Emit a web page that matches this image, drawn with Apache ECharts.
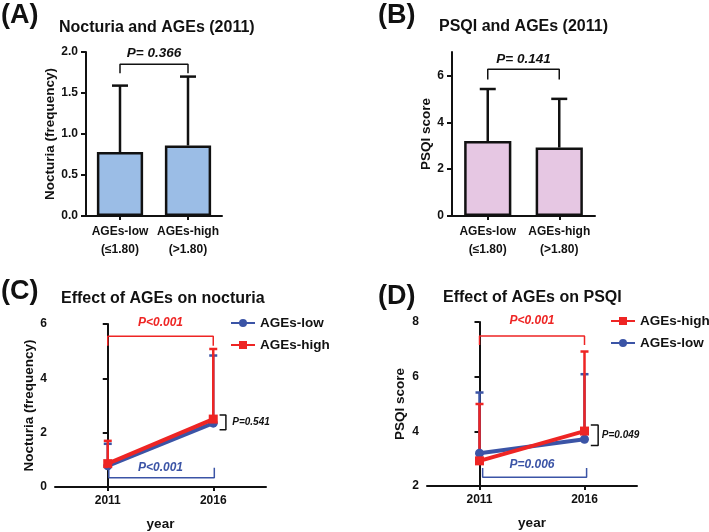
<!DOCTYPE html>
<html>
<head>
<meta charset="utf-8">
<script src="https://cdn.jsdelivr.net/npm/echarts@6/dist/echarts.min.js"></script>
<style>
html, body { margin: 0; padding: 0; background: #fff; }
#chart { width: 709px; height: 532px; }
</style>
</head>
<body>
<div id="chart"></div>
<script>
// (A)(B) 2011 groups
var groupLabels = ['AGEs-low\n(≤1.80)', 'AGEs-high\n(>1.80)'];
var nocturiaMean2011 = [0.78, 0.86];
var nocturiaUpper2011 = [1.59, 1.70];
var psqiMean2011 = [3.2, 2.92];
var psqiUpper2011 = [5.42, 5.0];

// (C)(D) 2011 -> 2016
var years = ['2011', '2016'];
var nocLow = [0.78, 2.35];
var nocLowUpper = [1.59, 4.84];
var nocHigh = [0.86, 2.50];
var nocHighUpper = [1.70, 5.08];
var psqiLow = [3.2, 3.71];
var psqiLowUpper = [5.42, 6.09];
var psqiHigh = [2.92, 4.01];
var psqiHighUpper = [5.0, 6.92];

var FONT = "'Liberation Sans', Arial, sans-serif";
var RED = '#ee2524';
var BLUE = '#3b54a6';
var BLACK = '#111';

var chart = echarts.init(document.getElementById('chart'));

function pairs(vals) {
  return vals.map(function (v, i) { return [i, v]; });
}
function errData(means, uppers) {
  return means.map(function (m, i) { return [i, m, uppers[i]]; });
}
// vertical error bar (upper only) with cap
function errSeries(idx, means, uppers, color, capW, z) {
  return {
    type: 'custom',
    xAxisIndex: idx,
    yAxisIndex: idx,
    z: z,
    silent: true,
    data: errData(means, uppers),
    renderItem: function (params, api) {
      var p0 = api.coord([api.value(0), api.value(1)]);
      var p1 = api.coord([api.value(0), api.value(2)]);
      var st = { stroke: color, lineWidth: 2.5 };
      return {
        type: 'group',
        children: [
          { type: 'line', shape: { x1: p0[0], y1: p0[1], x2: p1[0], y2: p1[1] }, style: st },
          { type: 'line', shape: { x1: p1[0] - capW / 2, y1: p1[1], x2: p1[0] + capW / 2, y2: p1[1] }, style: st }
        ]
      };
    }
  };
}
// significance bracket drawn in axis coordinates
function bracket(idx, pts, color) {
  return {
    type: 'line',
    xAxisIndex: idx,
    yAxisIndex: idx,
    data: pts,
    symbol: 'none',
    silent: true,
    z: 5,
    lineStyle: { color: color, width: 1.5 },
    animation: false
  };
}

var labelStyle = { color: BLACK, fontFamily: FONT, fontWeight: 'bold', fontSize: 12 };
var nameStyle = { color: BLACK, fontFamily: FONT, fontWeight: 'bold', fontSize: 13.5 };
var axisLine = { show: true, lineStyle: { color: BLACK, width: 2 } };
var axisTick = { show: true, length: 5, lineStyle: { color: BLACK, width: 2 } };

function yAxis(idx, min, max, interval, name, gap, fmt, custom) {
  var lab = Object.assign({ margin: 8 }, labelStyle);
  if (fmt) lab.formatter = fmt;
  var tick = Object.assign({}, axisTick);
  if (custom) { lab.customValues = custom; tick.customValues = custom; }
  return {
    type: 'value', gridIndex: idx, min: min, max: max, interval: interval,
    name: name, nameLocation: 'middle', nameGap: gap, nameTextStyle: nameStyle,
    axisLine: axisLine, axisTick: tick, axisLabel: lab, splitLine: { show: false }
  };
}
function yearAxis(idx) {
  return {
    type: 'value', gridIndex: idx, min: -0.5, max: 1.5, interval: 0.5,
    name: 'year', nameLocation: 'middle', nameGap: 30,
    nameTextStyle: nameStyle,
    axisLine: Object.assign({ onZero: false }, axisLine),
    axisTick: Object.assign({ customValues: [0, 1] }, axisTick, { length: 4 }),
    axisLabel: Object.assign({}, labelStyle, {
      margin: 8, customValues: [0, 1],
      formatter: function (v) { return years[Math.round(v)]; }
    }),
    splitLine: { show: false }
  };
}
function catAxis(idx) {
  return {
    type: 'category', gridIndex: idx, data: groupLabels,
    axisLine: axisLine,
    axisTick: Object.assign({ alignWithLabel: true }, axisTick, { length: 4 }),
    axisLabel: Object.assign({}, labelStyle, { margin: 7, lineHeight: 18, interval: 0 })
  };
}
function legend(names, left, top) {
  return {
    data: names, left: left, top: top, orient: 'vertical', padding: 0,
    itemWidth: 24, itemHeight: 10, itemGap: 8,
    textStyle: { color: BLACK, fontFamily: FONT, fontWeight: 'bold', fontSize: 13.5 }
  };
}

var option = {
  animation: false,
  backgroundColor: '#fff',
  textStyle: { fontFamily: FONT },
  grid: [
    { left: 86, top: 52, width: 136, height: 164 },
    { left: 452, top: 52, width: 143, height: 164 },
    { left: 55, top: 324, width: 211, height: 164 },
    { left: 427, top: 322, width: 210, height: 164 }
  ],
  xAxis: [catAxis(0), catAxis(1), yearAxis(2), yearAxis(3)],
  yAxis: [
    yAxis(0, 0, 2, 0.5, 'Nocturia (frequency)', 27, function (v) { return v.toFixed(1); }),
    yAxis(1, 0, 7, 2, 'PSQI score', 18, null, [0, 2, 4, 6]),
    yAxis(2, 0, 6, 2, 'Nocturia (frequency)', 18),
    yAxis(3, 2, 8, 2, 'PSQI score', 20)
  ],
  legend: [
    legend(['AGEs-low', 'AGEs-high'], 230, 316),
    legend(['AGEs-high', 'AGEs-low'], 610, 314)
  ],
  series: [
    // (A)
    {
      type: 'bar', xAxisIndex: 0, yAxisIndex: 0, data: nocturiaMean2011, barWidth: '68%',
      itemStyle: { color: '#9bbde6', borderColor: BLACK, borderWidth: 2.5 }
    },
    errSeries(0, nocturiaMean2011, nocturiaUpper2011, BLACK, 16, 3),
    bracket(0, [[0, 1.74], [0, 1.85], [1, 1.85], [1, 1.74]], BLACK),
    // (B)
    {
      type: 'bar', xAxisIndex: 1, yAxisIndex: 1, data: psqiMean2011, barWidth: '66%',
      itemStyle: { color: '#e6c7e3', borderColor: BLACK, borderWidth: 2.5 }
    },
    errSeries(1, psqiMean2011, psqiUpper2011, BLACK, 16, 3),
    bracket(1, [[0, 5.83], [0, 6.26], [1, 6.26], [1, 5.83]], BLACK),
    // (C)
    errSeries(2, nocLow, nocLowUpper, BLUE, 8, 2),
    errSeries(2, nocHigh, nocHighUpper, RED, 8, 2),
    {
      name: 'AGEs-low', type: 'line', xAxisIndex: 2, yAxisIndex: 2, data: pairs(nocLow),
      symbol: 'circle', symbolSize: 9, z: 3,
      lineStyle: { color: BLUE, width: 4 }, itemStyle: { color: BLUE }
    },
    {
      name: 'AGEs-high', type: 'line', xAxisIndex: 2, yAxisIndex: 2, data: pairs(nocHigh),
      symbol: 'rect', symbolSize: 9, z: 4,
      lineStyle: { color: RED, width: 4 }, itemStyle: { color: RED }
    },
    bracket(2, [[0, 5.2], [0, 5.55], [1, 5.55], [1, 5.2]], RED),
    bracket(2, [[0.01, 0.71], [0.01, 0.34], [1.01, 0.34], [1.01, 0.71]], BLUE),
    bracket(2, [[1.06, 2.65], [1.12, 2.65], [1.12, 2.11], [1.06, 2.11]], BLACK),
    // (D)
    errSeries(3, psqiLow, psqiLowUpper, BLUE, 8, 2),
    errSeries(3, psqiHigh, psqiHighUpper, RED, 8, 2),
    {
      name: 'AGEs-low', type: 'line', xAxisIndex: 3, yAxisIndex: 3, data: pairs(psqiLow),
      symbol: 'circle', symbolSize: 9, z: 3,
      lineStyle: { color: BLUE, width: 4 }, itemStyle: { color: BLUE }
    },
    {
      name: 'AGEs-high', type: 'line', xAxisIndex: 3, yAxisIndex: 3, data: pairs(psqiHigh),
      symbol: 'rect', symbolSize: 9, z: 4,
      lineStyle: { color: RED, width: 4 }, itemStyle: { color: RED }
    },
    bracket(3, [[0, 7.16], [0, 7.49], [1, 7.49], [1, 7.16]], RED),
    bracket(3, [[0.03, 2.66], [0.03, 2.32], [1.02, 2.32], [1.02, 2.66]], BLUE),
    bracket(3, [[1.06, 4.23], [1.13, 4.23], [1.13, 3.48], [1.06, 3.48]], BLACK)
  ]
};
chart.setOption(option);

// texts: panel letters, titles, p-values
function txt(x, y, s, size, color, align, italic) {
  var f = (italic ? 'italic ' : '') + 'bold ' + size + 'px ' + FONT;
  return {
    type: 'text', z: 10, silent: true,
    style: { x: x, y: y, text: s, font: f, fill: color, align: align, verticalAlign: 'middle', textAlign: align, textVerticalAlign: 'middle' }
  };
}
function at(idx, x, y) {
  return chart.convertToPixel({ xAxisIndex: idx, yAxisIndex: idx }, [x, y]);
}
function mid(idx, y) {
  var a = at(idx, 0, y), b = at(idx, 1, y);
  return [(a[0] + b[0]) / 2, a[1]];
}
var pA = mid(0, 1.98), pB = mid(1, 6.68);
var pC1 = at(2, 0.5, 6.05), pC2 = at(2, 0.5, 0.7), pC3 = at(2, 1.18, 2.37);
var pD1 = at(3, 0.5, 8.04), pD2 = at(3, 0.5, 2.77), pD3 = at(3, 1.165, 3.85);

chart.setOption({
  graphic: [
    txt(1, 16, '(A)', 27, BLACK, 'left'),
    txt(378, 16, '(B)', 27, BLACK, 'left'),
    txt(1, 292, '(C)', 27, BLACK, 'left'),
    txt(378, 297, '(D)', 27, BLACK, 'left'),
    txt(59, 28, 'Nocturia and AGEs (2011)', 16, BLACK, 'left'),
    txt(439, 27, 'PSQI and AGEs (2011)', 16, BLACK, 'left'),
    txt(61, 299, 'Effect of AGEs on nocturia', 16, BLACK, 'left'),
    txt(443, 298, 'Effect of AGEs on PSQI', 16, BLACK, 'left'),
    txt(pA[0], pA[1], 'P= 0.366', 13.5, BLACK, 'center', true),
    txt(pB[0], pB[1], 'P= 0.141', 13.5, BLACK, 'center', true),
    txt(pC1[0], pC1[1], 'P<0.001', 12, RED, 'center', true),
    txt(pC2[0], pC2[1], 'P<0.001', 12, BLUE, 'center', true),
    txt(pC3[0], pC3[1], 'P=0.541', 10, BLACK, 'left', true),
    txt(pD1[0], pD1[1], 'P<0.001', 12, RED, 'center', true),
    txt(pD2[0], pD2[1], 'P=0.006', 12, BLUE, 'center', true),
    txt(pD3[0], pD3[1], 'P=0.049', 10, BLACK, 'left', true)
  ]
});
</script>
</body>
</html>
